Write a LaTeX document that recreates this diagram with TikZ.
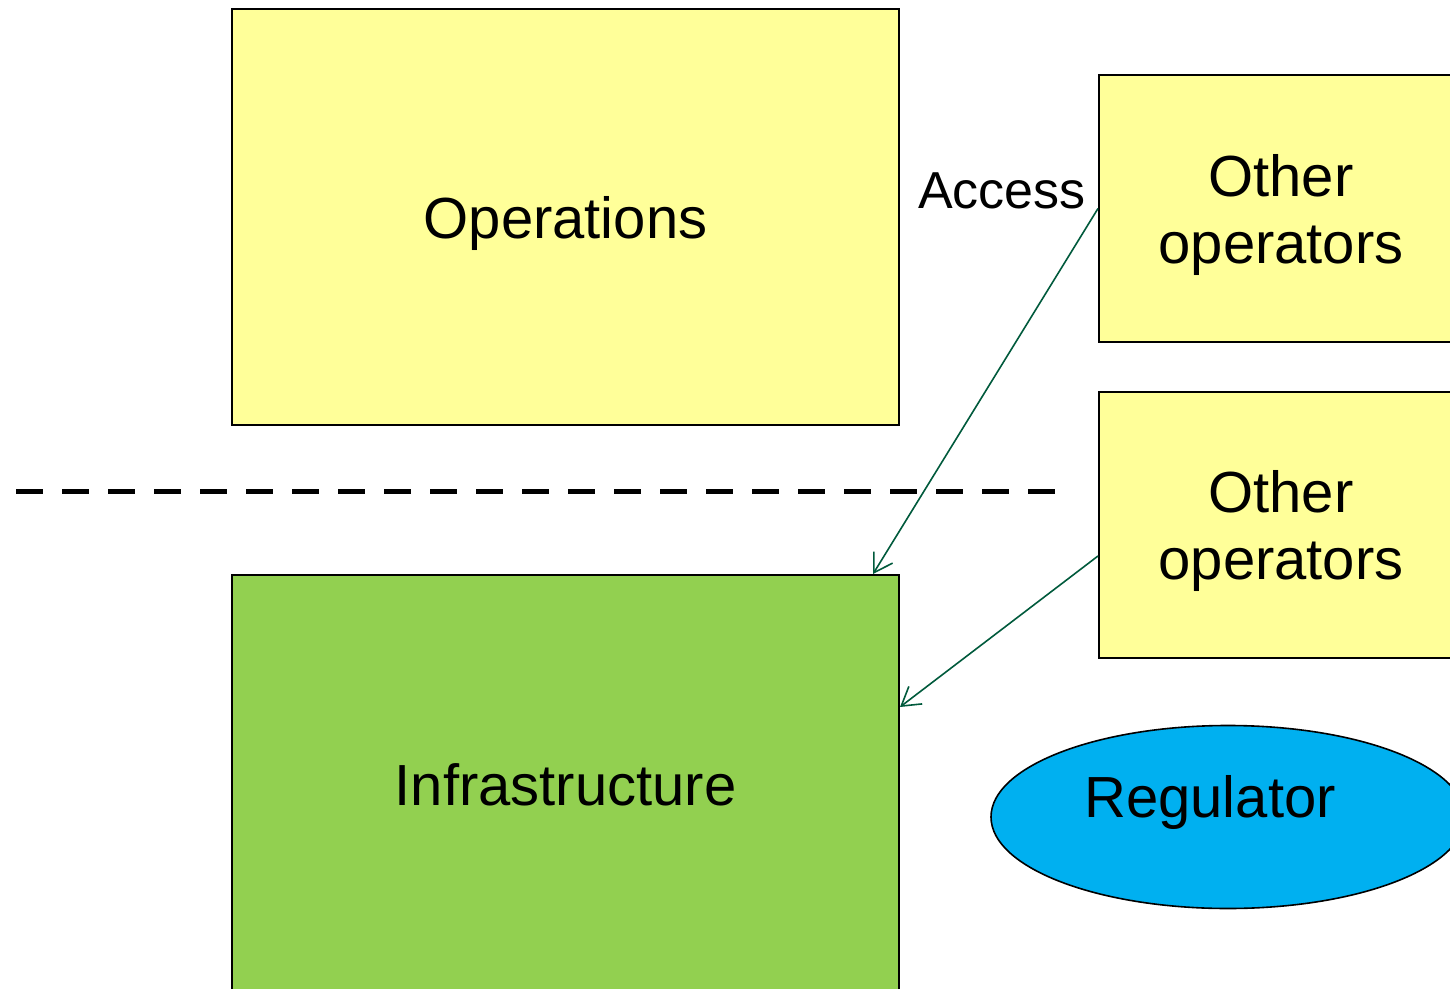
\documentclass[tikz,border=0pt]{standalone}
\usepackage{fontspec}
\setmainfont{Liberation Sans}
\usetikzlibrary{shapes.geometric,arrows.meta,calc}
\definecolor{boxyellow}{HTML}{FFFF99}
\definecolor{infragreen}{HTML}{92D050}
\definecolor{regblue}{HTML}{00B0F0}
\definecolor{arrowgreen}{HTML}{005A3C}
\tikzset{
  bigtext/.style={font=\fontsize{29}{33.5}\selectfont},
  box/.style={draw=black, line width=1pt, inner sep=0pt, align=center, bigtext},
  yellowbox/.style={box, fill=boxyellow, text depth=0pt},
  link/.style={draw=arrowgreen, line width=0.8pt,
    -{Straight Barb[length=9pt,width=11pt,line width=0.8pt]}},
}
\begin{document}
\begin{tikzpicture}[x=0.5pt, y=-0.5pt]
\clip (0,0) rectangle (1450,989);
\fill[white] (0,0) rectangle (1450,989);
\node[yellowbox, minimum width=333.5pt, minimum height=208pt] (ops) at (565.5,217) {Operations};
\node[box, fill=infragreen, minimum width=333.5pt, minimum height=210pt] (infra) at (565.5,785) {Infrastructure};
\node[yellowbox, minimum width=182pt, minimum height=133.5pt] (oth1) at (1281,208.5) {Other\\operators};
\node[yellowbox, minimum width=182pt, minimum height=133pt] (oth2) at (1281,525) {Other\\operators};
\node[ellipse, draw=black, line width=0.8pt, fill=regblue, minimum width=237pt, minimum height=91.5pt, inner sep=0pt] (reg) at (1228,817) {};
\node[bigtext, inner sep=0pt] (regtext) at (1210,802) {Regulator};
\node[font=\fontsize{26}{30}\selectfont, inner sep=0pt] (access) at (1002,191) {Access};
\coordinate (dashA) at (16,491);
\coordinate (dashB) at (1062,491);
\draw[line width=2.5pt, dash pattern=on 13.5pt off 9.5pt] (dashA) -- (dashB);
\coordinate (in1) at ($(infra.north east)+(-27,0)$);
\coordinate (out2) at ($(oth2.west)+(0,31)$);
\coordinate (in2) at ($(infra.north east)+(0,133)$);
\draw[link] (oth1.west) -- (in1);
\draw[link] (out2) -- (in2);
\end{tikzpicture}
\end{document}
